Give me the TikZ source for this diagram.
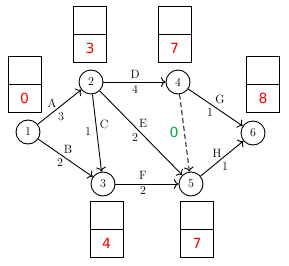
\documentclass[tikz,border=0pt]{standalone}
\usepackage{fontspec}
\usetikzlibrary{arrows.meta}
\newfontfamily\numfont{DejaVu Sans}
\definecolor{numred}{RGB}{255,0,0}
\definecolor{zgreen}{RGB}{0,170,70}
\begin{document}
\begin{tikzpicture}[x=1pt,y=-1pt,
  ev/.style={circle,draw,line width=0.9pt,minimum size=24pt,inner sep=0pt,font=\fontsize{12}{14}\selectfont},
  tbox/.style={draw,line width=0.9pt,minimum width=33pt,minimum height=56pt,inner sep=0pt},
  num/.style={font=\numfont\fontsize{14}{16}\selectfont,text=numred,inner sep=0pt},
  act/.style={-{To[scale=1.3]},line width=0.9pt},
  lab/.style={font=\fontsize{12}{14}\selectfont,inner sep=0pt}]
\useasboundingbox (0,0) rectangle (289,265);
\node[ev] (n1) at (28,132) {1};
\node[ev] (n2) at (91,82) {2};
\node[ev] (n3) at (103,184) {3};
\node[ev] (n4) at (178,82) {4};
\node[ev] (n5) at (191,184) {5};
\node[ev] (n6) at (253,133) {6};
% boxes
\foreach \nm/\x/\y/\v in {b1/24.5/84/0, b2/90/34/3, b4/174.5/34/7, b6/263/84/8, b3/106.5/229/4, b5/197/229/7}{
  \node[tbox] (\nm) at (\x,\y) {};
  \draw[line width=0.9pt] (\nm.west) -- (\nm.east);
  \node[num] (\nm v) at (\x,\y+14) {\v};
}
% activities
\draw[act] (n1) -- (n2);
\draw[act] (n1) -- (n3);
\draw[act] (n2) -- (n4);
\draw[act] (n2) -- (n3);
\draw[act] (n2) -- (n5);
\draw[act] (n3) -- (n5);
\draw[act] (n4) -- (n6);
\draw[act] (n5) -- (n6);
\draw[act,dash pattern=on 5pt off 3pt] (n4) -- (n5);
% labels
\node[lab] (lA) at (52,103) {A};
\node[lab] (lA2) at (61,117) {3};
\node[lab] (lB) at (68,149) {B};
\node[lab] (lB2) at (60,163) {2};
\node[lab] (lC) at (104,124) {C};
\node[lab] (lC2) at (88,132) {1};
\node[lab] (lD) at (135,74) {D};
\node[lab] (lD2) at (135,89) {4};
\node[lab] (lE) at (143,123) {E};
\node[lab] (lE2) at (135,138) {2};
\node[lab] (lF) at (143,175) {F};
\node[lab] (lF2) at (143,191) {2};
\node[lab] (lG) at (220,99) {G};
\node[lab] (lG2) at (210,113) {1};
\node[lab] (lH) at (217,153) {H};
\node[lab] (lH2) at (225,167) {1};
\node[font=\numfont\fontsize{14}{16}\selectfont,text=zgreen,inner sep=0pt] (z) at (174,132) {0};
\end{tikzpicture}
\end{document}
